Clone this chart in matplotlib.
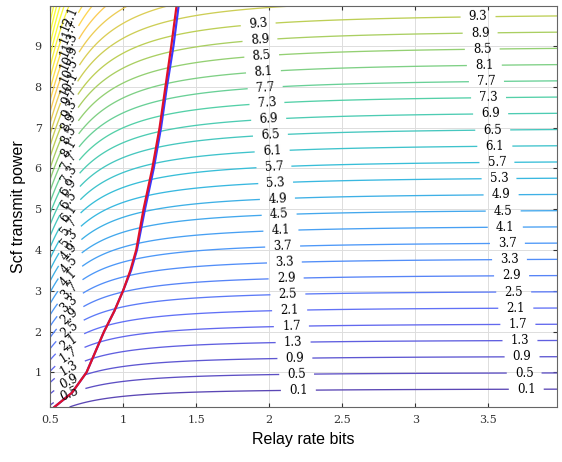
import matplotlib
matplotlib.use("Agg")
import matplotlib.pyplot as plt
import numpy as np
from matplotlib.colors import LinearSegmentedColormap

# ---- 数据 ----
# 曲面参数(从图上读出:远端 z ≈ y - 0.5,左侧抬升 f(x)*(y+1.6))
远端偏移 = 0.5
左侧系数 = 0.0765
左侧原点 = 0.1
左侧幂 = 1.93
左侧平移 = 1.6
等高步长 = 0.4
等高起点 = 0.1
色标上限 = 12.8

# 红/蓝两条边界曲线
红_x = [0.53, 0.65, 0.75, 0.81, 0.87, 0.94, 1.00, 1.05, 1.09, 1.14, 1.20, 1.25, 1.29, 1.33, 1.366]
红_y = [0.15, 0.50, 1.00, 1.50, 2.00, 2.50, 3.00, 3.50, 4.00, 5.00, 6.00, 7.00, 8.00, 9.00, 9.98]
蓝_x = [0.53, 0.65, 0.75, 0.81, 0.87, 0.94, 1.00, 1.055, 1.095, 1.15, 1.21, 1.26, 1.30, 1.345, 1.38]
蓝_y = [0.15, 0.50, 1.00, 1.50, 2.00, 2.50, 3.00, 3.50, 4.00, 5.00, 6.00, 7.00, 8.00, 9.00, 9.98]

x刻度 = [0.5, 1, 1.5, 2, 2.5, 3, 3.5]
x刻度文字 = ["0.5", "1", "1.5", "2", "2.5", "3", "3.5"]
y刻度 = [1, 2, 3, 4, 5, 6, 7, 8, 9]

_锚 = np.array([
    (0.2422, 0.1504, 0.6603), (0.2810, 0.3228, 0.9579), (0.1786, 0.5289, 0.9682),
    (0.0689, 0.6948, 0.8394), (0.2161, 0.7843, 0.5923), (0.6720, 0.7793, 0.2227),
    (0.9970, 0.7659, 0.2199), (0.9769, 0.9839, 0.0805)])
parula = LinearSegmentedColormap.from_list("parula", _锚 * 0.85 + 0.15)


def f(x):
    return 左侧系数 / (x - 左侧原点) ** 左侧幂


def z(x, y):
    return y - 远端偏移 + f(x) * (y + 左侧平移)


def y_on(L, x):
    return (L + 远端偏移 - f(x) * 左侧平移) / (1 + f(x))


X, Y = np.meshgrid(np.linspace(0.5, 4.0, 500), np.linspace(0.15, 10.0, 500))
Z = z(X, Y)
levels = np.arange(等高起点, Z.max(), 等高步长)

fig = plt.figure(figsize=(5.62, 4.62), dpi=100)
ax = fig.add_axes([0.089, 0.119, 0.902, 0.868])
cs = ax.contour(X, Y, Z, levels=levels, cmap=parula, linewidths=0.95,
                vmin=等高起点, vmax=色标上限)

# 标签位置:左、中、右三列
pos = []
for L in levels:
    for xc in (0.63, 2.2 - (L - 0.1) / 9.2 * 0.275, 3.76 - (L - 0.1) / 9.2 * 0.33):
        yc = y_on(L, xc)
        if 0.25 < yc < 9.85:
            pos.append((xc, yc))
lbl = ax.clabel(cs, manual=pos, fmt="%.1f", fontsize=8.5, inline=True,
                inline_spacing=8, colors="k")
for t in lbl:
    t.set_fontfamily("DejaVu Serif")

ax.plot(蓝_x, 蓝_y, color="#3a3aff", lw=1.6)
ax.plot(红_x, 红_y, color="#e0102a", lw=1.6)

ax.set_xlim(0.5, 3.97)
ax.set_ylim(0.15, 9.98)
ax.set_xticks(x刻度)
ax.set_xticklabels(x刻度文字)
ax.set_yticks(y刻度)
ax.tick_params(direction="in", top=True, right=True, length=3, labelsize=8,
               colors="#333333", pad=6)
for t in ax.get_xticklabels() + ax.get_yticklabels():
    t.set_fontfamily("DejaVu Serif")
ax.grid(color="#dddddd", lw=0.7)
ax.set_axisbelow(True)
for s in ax.spines.values():
    s.set_color("#666666")
ax.set_xlabel("Relay rate bits", fontsize=11.5, family="Liberation Sans", labelpad=5)
ax.set_ylabel("Scf transmit power", fontsize=11.5, family="Liberation Sans", labelpad=6)
fig.savefig("out.png", dpi=100)
